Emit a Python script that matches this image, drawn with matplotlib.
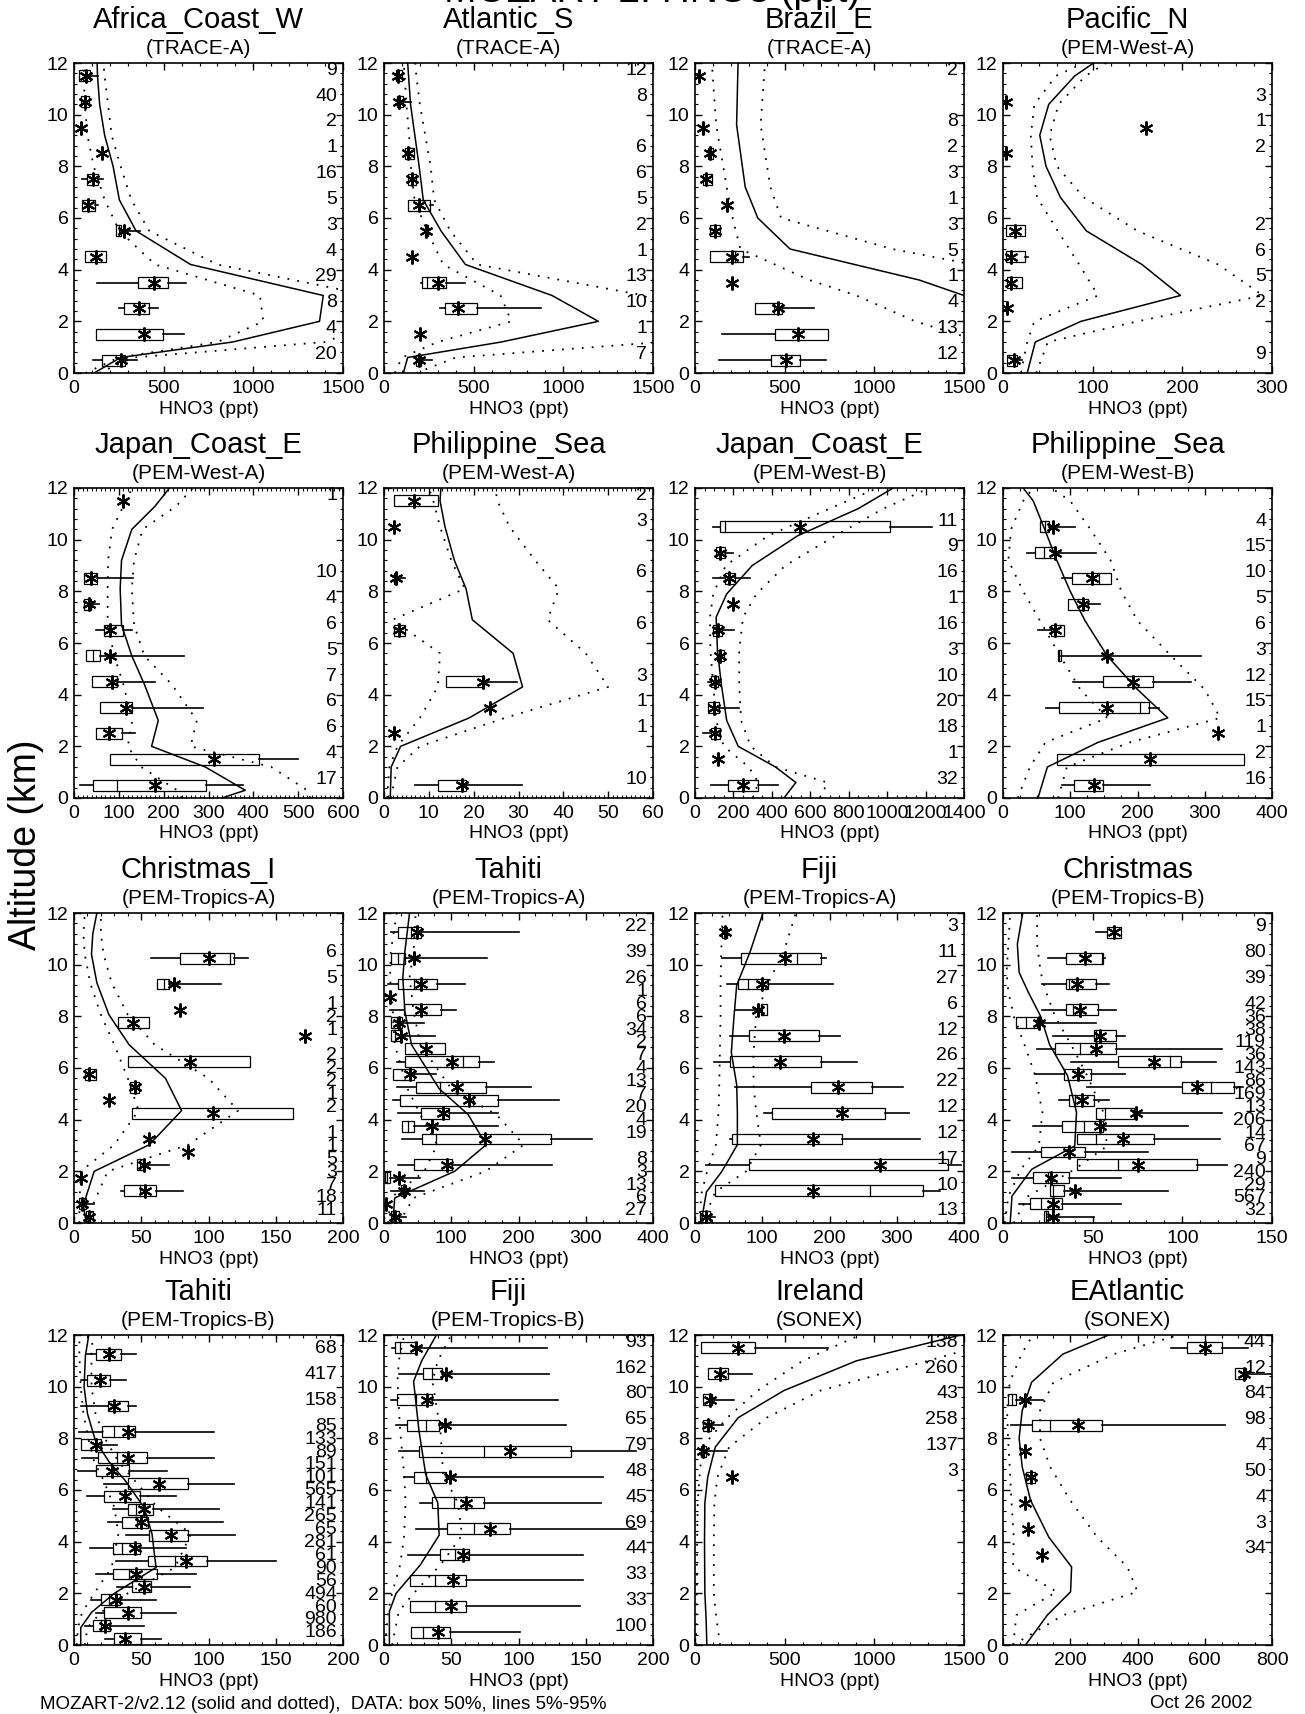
import matplotlib
matplotlib.use("Agg")
import matplotlib.pyplot as plt
import matplotlib.transforms as mtransforms
from matplotlib.patches import Rectangle
from matplotlib.ticker import MultipleLocator

plt.rcParams['font.family'] = ['Liberation Sans', 'DejaVu Sans']

W, H = 1305, 1714

# observations per altitude bin:
# (alt km, p5, p25, median, p75, p95, mean, n)   None = not drawn
afr_obs = [(11.5, None, 26, 65, 89, 136, 65, 9), (10.5, None, 37, 61, 84, None, 61, 40),
           (9.5, None, None, None, None, None, 37, 2), (8.5, None, None, None, None, None, 154, 1),
           (7.5, 42, 73, 105, 136, 159, 105, 16), (6.5, None, 47, 77, 119, 136, 77, 5),
           (5.5, None, 234, 250, 264, 370, 281, 3), (4.5, None, 61, 124, 178, None, 124, 4),
           (3.5, 129, 358, 447, 522, 627, 447, 29), (2.5, 253, 278, 365, 417, 470, 365, 8),
           (1.5, None, 124, 393, 498, 611, 393, 4), (0.5, 105, 154, 260, 283, 353, 260, 20)]
afr_z = [0, 0.6, 1.2, 2.0, 3.0, 4.2, 5.5, 6.7, 8.0, 9.2, 10.4, 11.5, 12.0]
afr_mod = [112, 260, 885, 1369, 1390, 650, 346, 253, 218, 171, 143, 131, 129]
afr_lo = [65, 250, 800, 1055, 1037, 452, 253, 171, 110, 75, 60, 55, 55]
afr_hi = [140, 330, 1400, 1700, 1650, 800, 420, 320, 260, 210, 190, 170, 165]

atl_obs = [(11.5, None, 66, 78, 101, None, 78, 12), (10.5, None, 70, 85, 106, 148, 85, 8),
           (8.5, None, 118, 136, 165, None, 136, 6), (7.5, None, 136, 155, 178, None, 155, 6),
           (6.5, None, 132, 196, 259, 275, 196, 5), (5.5, None, 226, 235, 247, None, 235, 2),
           (4.5, None, None, None, None, None, 155, 1), (3.5, 207, 214, 240, 344, 454, 301, 13),
           (2.5, 313, 341, 412, 518, 878, 412, 10), (1.5, None, None, None, None, None, 200, 1),
           (0.5, None, 180, 196, 206, 266, 196, 7)]
atl_z = [0, 0.6, 1.2, 2.0, 3.0, 4.2, 5.5, 6.7, 8.0, 9.2, 10.4, 11.5, 12.0]
atl_mod = [108, 132, 654, 1195, 937, 454, 318, 219, 196, 172, 148, 137, 132]
atl_lo = [60, 100, 300, 710, 650, 330, 240, 170, 150, 140, 125, 115, 110]
atl_hi = [180, 400, 1550, 1650, 1450, 520, 370, 280, 260, 230, 200, 180, 175]

bra_obs = [(11.5, None, None, None, None, None, 24, 2), (9.5, None, 38, 43, 48, None, 43, 8),
           (8.5, None, 71, 83, 99, None, 83, 2), (7.5, None, 43, 64, 94, None, 64, 3),
           (6.5, None, None, None, None, None, 177, 1), (5.5, None, 83, 113, 142, None, 113, 3),
           (4.5, None, 83, 225, 267, 302, 208, 5), (3.5, None, None, None, None, None, 208, 1),
           (2.5, None, 335, 440, 484, 666, 461, 4), (1.5, 149, 444, 572, 744, None, 572, 13),
           (0.5, 135, 425, 508, 586, 733, 508, 12)]
bra_z = [0, 1.2, 2.0, 3.0, 3.6, 4.8, 6.0, 7.2, 9.6, 12.0]
bra_mod = [2500, 2500, 2200, 1500, 1250, 530, 350, 280, 232, 240]
bra_lo = [1800, 1600, 1228, 900, 638, 253, 210, 177, 118, 94]
bra_hi = [3000, 3000, 3000, 2500, 2000, 1100, 480, 420, 366, 390]

pac_obs = [(10.5, None, None, None, None, None, 3, 3), (9.5, None, None, None, None, None, 159, 1),
           (8.5, None, None, None, None, None, 3, 2), (5.5, None, 3, 13, 24, None, 13, 2),
           (4.5, None, 3, 9, 25, 28, 9, 6), (3.5, None, 4, 9, 21, None, 9, 5),
           (2.5, None, None, None, None, None, 4, 2), (0.5, None, 4, 12, 16, 21, 12, 9)]
pac_z = [0, 1.2, 2.0, 3.0, 4.2, 5.5, 6.8, 8.0, 9.2, 10.4, 11.5, 12.0]
pac_mod = [27, 36, 87, 198, 155, 93, 64, 48, 41, 51, 80, 101]
pac_lo = [20, 27, 35, 106, 85, 61, 38, 33, 31, 35, 59, 90]
pac_hi = [37, 50, 150, 290, 240, 150, 90, 60, 52, 62, 92, 115]

jpa_obs = [(11.5, None, None, None, None, None, 110, 1), (8.5, None, 22, 38, 51, 132, 38, 10),
           (7.5, None, 22, 33, 38, 56, 33, 4), (6.5, 50, 66, 80, 110, 129, 80, 6),
           (5.5, None, 26, 42, 57, 246, 80, 5), (4.5, None, 40, 84, 95, 181, 84, 7),
           (3.5, None, 59, 115, 129, 288, 115, 6), (2.5, None, 48, 78, 106, 137, 78, 6),
           (1.5, None, 81, 312, 413, 499, 312, 4), (0.5, 14, 42, 96, 295, 377, 181, 17)]
jpa_z = [0, 0.3, 1.2, 2.0, 3.0, 4.4, 5.5, 6.7, 8.1, 9.2, 10.4, 11.3, 12.0]
jpa_mod = [330, 382, 293, 173, 188, 157, 129, 106, 103, 106, 129, 181, 213]
jpa_lo = [240, 230, 150, 120, 130, 110, 90, 75, 75, 76, 85, 110, 130]
jpa_hi = [527, 520, 440, 260, 274, 218, 157, 134, 129, 134, 153, 228, 265]

pha_obs = [(11.5, None, 2.3, 6.8, 12, None, 6.8, 2), (10.5, None, None, None, None, None, 2.2, 3),
           (8.5, None, 2.3, 2.6, 2.9, 4.7, 2.6, 6), (6.5, None, 2.3, 3.3, 4.7, None, 3.3, 6),
           (4.5, None, 13.9, 22, 22.2, 29.7, 22, 3), (3.5, None, None, None, None, None, 23.7, 1),
           (2.5, None, None, None, None, None, 2.3, 1), (0.5, 7, 12, 17.5, 18.3, 30.7, 17.5, 10)]
pha_z = [0, 1.2, 2.0, 3.1, 4.3, 5.6, 6.9, 8.1, 9.2, 10.5, 11.5, 12.0]
pha_mod = [1.4, 1.6, 3.7, 19, 30.9, 28.8, 19.7, 18.3, 15.7, 13.6, 12.5, 12.7]
pha_lo = [0.7, 1.2, 3.0, 8, 12, 12.5, 1.9, 18, 15, 12.5, 11, 10]
pha_hi = [1.5, 3, 8, 27, 50, 45, 36.5, 39, 33.7, 28, 25.3, 24.8]

jpb_obs = [(10.5, 93, 132, 154, 1014, 1235, 547, 11), (9.5, None, 110, 132, 154, 198, 132, 9),
           (8.5, 93, 154, 176, 209, 287, 176, 16), (7.5, None, None, None, None, None, 198, 1),
           (6.5, None, 93, 121, 143, 203, 121, 16), (5.5, None, 115, 132, 150, None, 132, 3),
           (4.5, 66, 84, 104, 121, 137, 104, 10), (3.5, None, 66, 99, 126, 227, 99, 20),
           (2.5, 40, 84, 106, 132, None, 106, 18), (1.5, None, None, None, None, None, 121, 1),
           (0.5, 84, 172, 249, 326, 434, 249, 32)]
jpb_z = [0, 0.6, 1.2, 2.0, 3.0, 4.4, 5.7, 7.0, 7.9, 9.0, 10.15, 11.2, 12.0]
jpb_mod = [463, 525, 419, 225, 165, 137, 117, 110, 165, 298, 534, 849, 1032]
jpb_lo = [300, 330, 280, 150, 110, 95, 80, 78, 95, 160, 380, 700, 950]
jpb_hi = [650, 690, 420, 290, 240, 230, 230, 250, 320, 470, 730, 980, 1220]

phb_obs = [(10.5, None, 55, 62, 69, 107, 74, 4), (9.5, 36, 48, 61, 77, 138, 78, 15),
           (8.5, 88, 102, 143, 160, None, 133, 10), (7.5, None, 96, 119, 126, 144, 119, 5),
           (6.5, 52, 72, 78, 90, None, 78, 6), (5.5, None, 82, 84, 86, 295, 155, 3),
           (4.5, 104, 148, 193, 223, 279, 193, 12), (3.5, 64, 83, 203, 217, 232, 155, 15),
           (2.5, None, None, None, None, None, 319, 1), (1.5, None, 80, 219, 358, None, 219, 2),
           (0.5, 87, 105, 136, 149, 219, 136, 16)]
phb_z = [0, 1.2, 2.15, 3.1, 4.2, 5.5, 6.86, 8.0, 9.2, 10.4, 11.5, 12.0]
phb_mod = [52, 66, 141, 245, 200, 155, 122, 100, 80, 62, 45, 30]
phb_lo = [22, 40, 63, 155, 115, 85, 55, 30, 8, 12, 30, 45]
phb_hi = [82, 95, 188, 323, 300, 250, 200, 176, 160, 130, 100, 72]

cha_obs = [(10.25, 57, 79, 116, 119, 129, 100, 6), (9.25, None, 62, 67, 71, 109, 74, 5),
           (8.25, None, None, None, None, None, 79, 1), (7.75, None, 33, 44, 56, None, 44, 2),
           (7.25, None, None, None, None, None, 172, 1), (6.25, None, 40, 86, 131, None, 86, 2),
           (5.75, None, 8, 11, 16, None, 11, 2), (5.25, None, 42, 45, 48, None, 45, 2),
           (4.75, None, None, None, None, None, 26, 1), (4.25, None, 43, 103, 163, None, 103, 2),
           (3.25, None, None, None, None, None, 56, 1), (2.75, None, None, None, None, None, 85, 1),
           (2.25, None, 47, 49, 51, 71, 52, 5), (1.75, None, None, None, None, None, 5, 3),
           (1.25, 35, 37, 49, 61, 81, 53, 7), (0.75, None, 4, 6, 9, 15, 6, 18),
           (0.25, None, 9, 11, 14, None, 11, 11)]
cha_z = [0, 0.7, 2.0, 3.03, 4.35, 5.6, 6.9, 8.06, 9.3, 10.4, 11.2, 12.0]
cha_mod = [9, 7, 15, 56, 80, 68, 41, 26, 17, 13, 14, 17]
cha_lo = [4, 4, 5, 30, 48, 40, 30, 20, 12, 8, 7, 8]
cha_hi = [12, 14, 25, 85, 122, 100, 60, 40, 28, 22, 20, 20]

taa_obs = [(11.25, 11, 21, 40, 55, 200, 49, 22), (10.25, None, 11, 21, 31, 153, 44, 39),
           (9.25, 6, 21, 45, 79, 120, 55, 26), (8.75, None, None, None, None, None, 9, 1),
           (8.25, 9, 30, 55, 85, 107, 55, 6), (7.75, None, 11, 20, 27, 60, 22, 6),
           (7.25, None, 11, 16, 25, 76, 26, 34), (6.75, None, 31, 62, 91, None, 62, 2),
           (6.25, 19, 31, 117, 142, 163, 101, 7), (5.75, None, 13, 39, 44, 77, 39, 4),
           (5.25, 19, 47, 84, 152, 219, 109, 13), (4.75, 13, 24, 132, 169, 260, 127, 7),
           (4.25, 21, 55, 88, 96, 169, 88, 20), (3.75, None, 27, 35, 44, 169, 71, 4),
           (3.25, 27, 57, 77, 248, 309, 150, 19), (2.25, 21, 45, 93, 101, 250, 93, 8),
           (1.75, None, 2, 5, 9, 54, 23, 3), (1.25, 11, 25, 30, 33, 60, 30, 13),
           (0.75, None, None, None, None, None, 3, 6), (0.25, None, 11, 17, 23, 33, 17, 27)]
taa_z = [0, 0.97, 2.0, 3.03, 4.2, 5.2, 6.9, 8.2, 9.5, 10.5, 12.0]
taa_mod = [13, 16, 105, 152, 125, 82, 41, 31, 28, 31, 38]
taa_lo = [6, 10, 60, 79, 54, 35, 16, 13, 9, 10, 19]
taa_hi = [22, 44, 151, 208, 167, 100, 54, 44, 38, 44, 47]

fja_obs = [(11.25, None, 40, 44, 47, None, 44, 3), (10.25, 40, 69, 152, 188, 195, 134, 11),
           (9.25, 47, 64, 79, 108, 205, 99, 27), (8.25, 60, 98, 100, 107, None, 94, 6),
           (7.25, 52, 81, 132, 184, 216, 132, 12), (6.25, 28, 52, 126, 188, 241, 126, 26),
           (5.25, 60, 173, 212, 263, 310, 212, 22), (4.25, 102, 115, 219, 282, 318, 219, 12),
           (3.25, 52, 55, 176, 219, 335, 176, 12), (2.25, 16, 80, 275, 376, 395, 275, 17),
           (1.25, None, 29, 260, 339, 365, 176, 10), (0.25, None, 8, 16, 23, 30, 16, 13)]
fja_z = [0, 1.2, 2.0, 3.03, 4.3, 5.35, 6.6, 8.0, 9.2, 10.5, 12.0]
fja_mod = [9, 17, 40, 63, 63, 62, 54, 58, 62, 82, 101]
fja_lo = [6, 10, 18, 31, 35, 36, 37, 38, 38, 39, 41]
fja_hi = [11, 30, 76, 98, 91, 87, 87, 91, 107, 132, 150]

chb_obs = [(11.25, 52, 58, 62, 66, None, 62, 9), (10.25, 25, 35, 55, 56, 57, 46, 80),
           (9.25, 22, 35, 37, 52, 59, 41, 39), (8.25, 22, 35, 39, 53, 63, 43, 42),
           (7.75, None, 7, 13, 19, 52, 20, 36), (7.25, 28, 51, 52, 63, 68, 54, 38),
           (6.75, 19, 29, 43, 63, 122, 52, 119), (6.25, 38, 64, 93, 99, 119, 84, 36),
           (5.75, 18, 34, 42, 49, 68, 42, 143), (5.25, 47, 100, 116, 129, 134, 108, 86),
           (4.75, 31, 37, 40, 51, 59, 44, 169), (4.25, None, 52, 57, 73, 122, 74, 13),
           (3.75, 17, 33, 45, 56, 103, 54, 206), (3.25, None, 41, 52, 84, 121, 67, 14),
           (2.75, 5, 21, 37, 46, 81, 37, 67), (2.25, None, 41, 64, 108, 125, 75, 9),
           (1.75, 5, 17, 25, 37, 66, 27, 240), (1.25, None, 26, 28, 34, 92, 40, 29),
           (0.75, 9, 15, 21, 33, 66, 28, 567), (0.25, None, 23, 24, 25, 51, 28, 32)]
chb_z = [0, 1.04, 2.08, 2.98, 4.28, 5.7, 6.9, 8.0, 8.95, 9.7, 10.8, 12.0]
chb_mod = [4, 5, 16, 40, 41, 36, 26, 21, 14, 9, 8, 11]
chb_lo = [1, 3, 10, 20, 22, 18, 12, 6, 3, 2, 3, 4]
chb_hi = [6, 14, 40, 58, 56, 47, 38, 29, 24, 21, 19, 19]

tab_obs = [(11.25, 10, 16, 26, 35, 46, 26, 68), (10.25, 5, 10, 19, 27, 39, 19, 417),
           (9.25, 5, 25, 30, 40, 46, 30, 158), (8.25, 4, 21, 30, 45, 104, 40, 85),
           (7.75, None, 5, 16, 20, 32, 16, 133), (7.25, 6, 18, 32, 54, 104, 40, 89),
           (6.75, 3, 16, 28, 41, 69, 28, 151), (6.25, 22, 40, 63, 85, 119, 63, 101),
           (5.75, 10, 22, 38, 49, 76, 38, 565), (5.25, 29, 40, 46, 59, 108, 52, 141),
           (4.75, 25, 36, 47, 55, 111, 50, 265), (4.25, 39, 56, 72, 85, 120, 72, 65),
           (3.75, 12, 29, 36, 49, 83, 45, 281), (3.25, 31, 55, 75, 99, 150, 83, 61),
           (2.75, 16, 29, 41, 62, 91, 46, 90), (2.25, 32, 43, 52, 57, 86, 52, 56),
           (1.75, 13, 20, 26, 34, 61, 31, 494), (1.25, 16, 22, 40, 50, 76, 40, 60),
           (0.75, 8, 14, 20, 27, 52, 23, 980), (0.25, 23, 30, 38, 50, 65, 38, 186)]
tab_z = [0, 0.67, 1.26, 2.0, 3.0, 4.3, 5.33, 6.37, 7.1, 7.9, 8.96, 10.0, 11.2, 12.0]
tab_mod = [5, 5, 13, 30, 61, 58, 52, 38, 26, 16, 10, 7.5, 8.5, 11]
tab_lo = [2, 3, 6, 15, 28, 33, 30, 22, 15, 11, 7, 5, 4, 4]
tab_hi = [8, 10, 20, 40, 75, 87, 62, 45, 33, 24, 16, 13, 13, 14]

fjb_obs = [(11.5, 6, 8.5, 12, 24, 121, 24, 93), (10.5, 11, 29, 36, 43, 123, 46, 162),
           (9.5, 5, 10, 24, 36, 129, 32, 80), (8.5, 9, 17, 31, 41, 135, 45, 65),
           (7.5, 11, 26, 74, 139, 187, 94, 79), (6.5, 15, 22, 31, 46, 163, 49, 48),
           (5.5, 27, 36, 52, 74, 161, 61, 45), (4.5, 24, 47, 67, 94, 187, 79, 69),
           (3.5, 18, 42, 53, 63, 148, 59, 44), (2.5, None, 19, 38, 61, 148, 51, 33),
           (1.5, None, 19, 38, 61, 146, 50, 33), (0.5, None, 20, 29, 49, 101, 40, 100)]
fjb_z = [0, 1.3, 2.0, 3.1, 4.25, 5.5, 6.6, 8.3, 10.2, 11.0, 12.0]
fjb_mod = [4, 4, 9, 27, 41, 40, 31, 26, 22, 28, 39]
fjb_lo = [1, 3, 6, 12, 15, 16, 15, 12, 10, 11, 15]
fjb_hi = [6, 11, 22, 42, 58, 55, 44, 42, 36, 40, 50]

ire_obs = [(11.5, None, 35, 241, 335, 744, 241, 138), (10.5, None, 71, 137, 184, 319, 137, 260),
           (9.5, None, 47, 83, 94, 217, 83, 43), (8.5, None, 47, 71, 90, 158, 71, 258),
           (7.5, None, 31, 47, 59, 177, 47, 137), (6.5, None, None, None, None, None, 208, 3)]
ire_z = [0, 1.0, 2.0, 4.0, 5.5, 6.5, 7.66, 8.8, 9.85, 11.0, 12.0]
ire_mod = [66, 62, 55, 53, 55, 71, 113, 241, 496, 900, 1480]
ire_lo = [5, 8, 10, 12, 15, 25, 40, 180, 350, 600, 920]
ire_hi = [140, 120, 105, 105, 108, 125, 190, 400, 700, 1300, 1800]

eat_obs = [(11.5, 500, 546, 600, 651, 729, 600, 44), (10.5, None, 691, 716, 722, 800, 716, 12),
           (9.5, None, 16, 27, 38, 119, 65, 84), (8.5, 23, 85, 141, 293, 660, 224, 98),
           (7.5, None, None, None, None, None, 65, 4), (6.5, None, 69, 82, 94, None, 82, 50),
           (5.5, None, None, None, None, None, 65, 4), (4.5, None, None, None, None, None, 75, 3),
           (3.5, None, None, None, None, None, 116, 34)]
eat_z = [0, 1.16, 2.06, 3.02, 4.18, 5.6, 6.9, 8.0, 9.07, 10.17, 11.26, 12.03]
eat_mod = [67, 132, 201, 204, 136, 82, 57, 48, 57, 85, 178, 320]
eat_lo = [30, 40, 160, 30, 32, 25, 20, 15, 12, 20, 55, 90]
eat_hi = [30, 180, 400, 370, 280, 200, 140, 110, 110, 150, 330, 530]

# title, campaign, x max, major step, minor divisions, data
panels = [
    ("Africa_Coast_W", "(TRACE-A)", 1500, 500, 5, afr_obs, afr_z, afr_mod, afr_lo, afr_hi),
    ("Atlantic_S", "(TRACE-A)", 1500, 500, 5, atl_obs, atl_z, atl_mod, atl_lo, atl_hi),
    ("Brazil_E", "(TRACE-A)", 1500, 500, 5, bra_obs, bra_z, bra_mod, bra_lo, bra_hi),
    ("Pacific_N", "(PEM-West-A)", 300, 100, 5, pac_obs, pac_z, pac_mod, pac_lo, pac_hi),
    ("Japan_Coast_E", "(PEM-West-A)", 600, 100, 10, jpa_obs, jpa_z, jpa_mod, jpa_lo, jpa_hi),
    ("Philippine_Sea", "(PEM-West-A)", 60, 10, 10, pha_obs, pha_z, pha_mod, pha_lo, pha_hi),
    ("Japan_Coast_E", "(PEM-West-B)", 1400, 200, 4, jpb_obs, jpb_z, jpb_mod, jpb_lo, jpb_hi),
    ("Philippine_Sea", "(PEM-West-B)", 400, 100, 4, phb_obs, phb_z, phb_mod, phb_lo, phb_hi),
    ("Christmas_I", "(PEM-Tropics-A)", 200, 50, 5, cha_obs, cha_z, cha_mod, cha_lo, cha_hi),
    ("Tahiti", "(PEM-Tropics-A)", 400, 100, 4, taa_obs, taa_z, taa_mod, taa_lo, taa_hi),
    ("Fiji", "(PEM-Tropics-A)", 400, 100, 4, fja_obs, fja_z, fja_mod, fja_lo, fja_hi),
    ("Christmas", "(PEM-Tropics-B)", 150, 50, 5, chb_obs, chb_z, chb_mod, chb_lo, chb_hi),
    ("Tahiti", "(PEM-Tropics-B)", 200, 50, 5, tab_obs, tab_z, tab_mod, tab_lo, tab_hi),
    ("Fiji", "(PEM-Tropics-B)", 200, 50, 5, fjb_obs, fjb_z, fjb_mod, fjb_lo, fjb_hi),
    ("Ireland", "(SONEX)", 1500, 500, 5, ire_obs, ire_z, ire_mod, ire_lo, ire_hi),
    ("EAtlantic", "(SONEX)", 800, 200, 4, eat_obs, eat_z, eat_mod, eat_lo, eat_hi),
]

col_left = [74, 384, 695, 1003]
row_top = [63, 488, 913, 1335]
ax_w, ax_h = 269, 310

fig = plt.figure(figsize=(W / 100, H / 100), dpi=100)


def fy(px):
    return 1 - px / H


for i, (name, camp, xmax, major, nminor, obs, mz, mod, lo, hi) in enumerate(panels):
    left = col_left[i % 4]
    top = row_top[i // 4]
    ax = fig.add_axes([left / W, fy(top + ax_h), ax_w / W, ax_h / H])
    ax.set_xlim(0, xmax)
    ax.set_ylim(0, 12)
    ax.xaxis.set_major_locator(MultipleLocator(major))
    ax.xaxis.set_minor_locator(MultipleLocator(major / nminor))
    ax.yaxis.set_major_locator(MultipleLocator(2))
    ax.yaxis.set_minor_locator(MultipleLocator(0.4))
    ax.tick_params(which='both', direction='in', top=True, right=True, labelsize=14)
    ax.tick_params(which='major', length=5, width=1.0)
    ax.tick_params(which='minor', length=2.5, width=0.8)
    ax.tick_params(axis='x', pad=5)
    ax.tick_params(axis='y', pad=4)
    for s in ax.spines.values():
        s.set_linewidth(1.2)

    # model: solid mean, dotted range
    ax.plot(mod, mz, color='k', lw=1.1)
    ax.plot(lo, mz, color='k', lw=1.3, ls=(0, (1, 4.5)))
    ax.plot(hi, mz, color='k', lw=1.3, ls=(0, (1, 4.5)))

    blend = mtransforms.blended_transform_factory(ax.transAxes, ax.transData)
    for alt, p5, p25, p50, p75, p95, mean, n in obs:
        if p25 is not None:
            ax.add_patch(Rectangle((p25, alt - 0.21), p75 - p25, 0.42,
                                   fill=False, ec='k', lw=0.9))
            ax.plot([p50, p50], [alt - 0.21, alt + 0.21], color='k', lw=0.9)
            if p5 is not None:
                ax.plot([p5, p25], [alt, alt], color='k', lw=1.2)
            if p95 is not None:
                ax.plot([p75, p95], [alt, alt], color='k', lw=1.2)
        ax.plot(mean, alt, marker=(6, 2, 0), ms=10, mew=1.5, color='k')
        ax.text(1 - 6 / ax_w, alt + 0.22, str(n), transform=blend,
                ha='right', va='center', fontsize=14)

    ax.text(0.5, -36 / ax_h, "HNO3 (ppt)", transform=ax.transAxes,
            ha='center', va='center', fontsize=14)
    cx = (left + ax_w / 2 - 10) / W
    fig.text(cx, fy(top - 35), name, ha='center', va='baseline', fontsize=21)
    fig.text(cx, fy(top - 9), camp, ha='center', va='baseline', fontsize=15)

fig.text(0.5, fy(2), "MOZART-2: HNO3 (ppt)", ha='center', va='baseline', fontsize=28)
fig.text(26 / W, fy(845), "Altitude (km)", rotation=90, ha='center', va='center', fontsize=27)
fig.text(40 / W, fy(1709), "MOZART-2/v2.12 (solid and dotted),  DATA: box 50%, lines 5%-95%",
         ha='left', va='baseline', fontsize=13.5)
fig.text(1201 / W, fy(1708), "Oct 26 2002", ha='center', va='baseline', fontsize=13.5)

fig.savefig("out.png", dpi=100)
